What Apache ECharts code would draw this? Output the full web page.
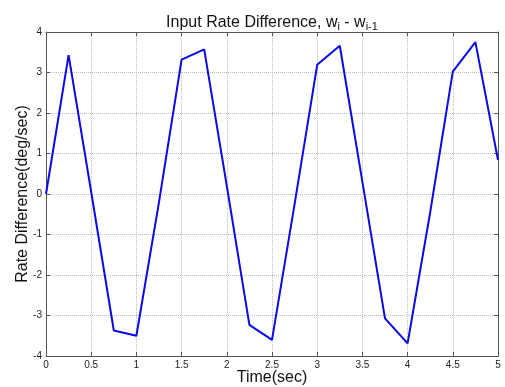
<!DOCTYPE html>
<html>
<head>
<meta charset="utf-8">
<script src="https://cdn.jsdelivr.net/npm/echarts@6/dist/echarts.min.js"></script>
<style>
  html, body { margin: 0; padding: 0; background: #fff; }
  #chart { width: 505px; height: 387px; }
</style>
</head>
<body>
<div id="chart"></div>
<script>
// sample times (sec) and rate difference (deg/sec)
const times = [0, 0.25, 0.5, 0.75, 1, 1.25, 1.5, 1.75, 2, 2.25, 2.5, 2.75, 3, 3.25, 3.5, 3.75, 4, 4.25, 4.5, 4.75, 5];
const rateDiff = [0, 3.43, 0.05, -3.37, -3.5, -0.2, 3.32, 3.57, 0.2, -3.23, -3.6, -0.25, 3.19, 3.66, 0.3, -3.07, -3.69, -0.45, 3.02, 3.75, 0.84];

const font = 'Liberation Sans, Arial, sans-serif';

const chart = echarts.init(document.getElementById('chart'));

// frame axes on top/right only draw ticks, like matlab box
const frameAxis = {
  axisLine: { show: true, onZero: false, lineStyle: { color: '#555', width: 1 } },
  axisTick: { show: true, inside: true, length: 4, lineStyle: { color: '#555' } },
  axisLabel: { show: false },
  splitLine: { show: false }
};

chart.setOption({
  animation: false,
  title: {
    text: 'Input Rate Difference, w{sub|i} - w{sub|i-1}',
    left: 267,
    textAlign: 'center',
    top: 8,
    textStyle: {
      fontFamily: font,
      fontSize: 16,
      fontWeight: 'normal',
      color: '#111',
      rich: {
        sub: { fontFamily: font, fontSize: 11, color: '#111', verticalAlign: 'bottom', padding: [8, 0, 0, 0] }
      }
    }
  },
  grid: { left: 46, right: 7, top: 32, bottom: 31, outerBoundsMode: 'none', containLabel: false },
  xAxis: [
    {
      type: 'value',
      min: 0, max: 5, interval: 0.5,
      name: 'Time(sec)',
      nameLocation: 'middle',
      nameGap: 14,
      nameMoveOverlap: false,
      nameTextStyle: { fontFamily: font, fontSize: 16, color: '#111' },
      axisLine: { show: true, onZero: false, lineStyle: { color: '#555', width: 1 } },
      axisTick: { show: true, inside: true, length: 4, lineStyle: { color: '#555' } },
      axisLabel: { fontFamily: font, fontSize: 10, color: '#222', margin: 4 },
      splitLine: { show: true, lineStyle: { color: '#bbb', type: 'dotted', width: 1 } }
    },
    Object.assign({ type: 'value', position: 'top', min: 0, max: 5, interval: 0.5 }, frameAxis)
  ],
  yAxis: [
    {
      type: 'value',
      min: -4, max: 4, interval: 1,
      name: 'Rate Difference(deg/sec)',
      nameLocation: 'middle',
      nameGap: 15,
      nameMoveOverlap: false,
      nameTextStyle: { fontFamily: font, fontSize: 16, color: '#111' },
      axisLine: { show: true, onZero: false, lineStyle: { color: '#555', width: 1 } },
      axisTick: { show: true, inside: true, length: 4, lineStyle: { color: '#555' } },
      axisLabel: { fontFamily: font, fontSize: 10, color: '#222', margin: 4 },
      splitLine: { show: true, lineStyle: { color: '#bbb', type: 'dotted', width: 1 } }
    },
    Object.assign({ type: 'value', position: 'right', min: -4, max: 4, interval: 1 }, frameAxis)
  ],
  series: [
    {
      type: 'line',
      data: times.map((t, i) => [t, rateDiff[i]]),
      showSymbol: false,
      lineStyle: { color: '#0a0ae6', width: 2 },
      itemStyle: { color: '#0a0ae6' }
    }
  ]
});
</script>
</body>
</html>
